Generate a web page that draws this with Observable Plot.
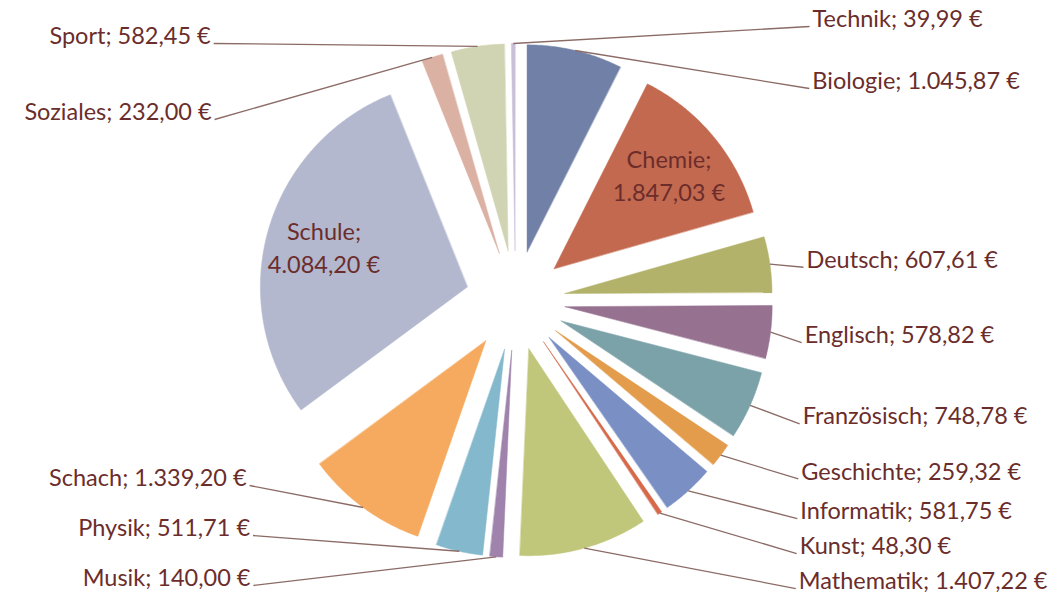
<!DOCTYPE html>
<html>
<head>
<meta charset="utf-8">
<script src="https://cdn.jsdelivr.net/npm/d3@7"></script>
<script src="https://cdn.jsdelivr.net/npm/@observablehq/plot@0.6"></script>
<style>
  html, body { margin: 0; padding: 0; background: #ffffff; }
  #chart svg { display: block; }
</style>
</head>
<body>
<div id="chart"></div>
<script>
// ---- Data -------------------------------------------------------------
const categories = ["Biologie","Chemie","Deutsch","Englisch","Französisch","Geschichte","Informatik","Kunst","Mathematik","Musik","Physik","Schach","Schule","Soziales","Sport","Technik"];
const values = [1045.87, 1847.03, 607.61, 578.82, 748.78, 259.32, 581.75, 48.30, 1407.22, 140.00, 511.71, 1339.20, 4084.20, 232.00, 582.45, 39.99];
const palette = ["#7080a6","#c3694f","#b2b26b","#977190","#7ca2a9","#e39c4c","#7a8fc4","#d5694a","#c0c67a","#9f83ac","#84b8cc","#f5aa5f","#b3b8cf","#dab1a3","#d1d4b2","#c9bfd8"];

// ---- Layout ------------------------------------------------------------
const W = 1058, H = 602;
const cx = 515, cy = 300;       // pie centre
const r = 207;                  // slice radius
const explode = 50;             // explosion offset of each slice
const labelR = 285;             // radius used for initial label heights
const rightX = 805, leftX = 230;
const textColor = "#6b2d2b", leaderColor = "#8b6b66";
const font = "Lato, 'Open Sans', sans-serif";
const fontSize = 23.5;

const de = d3.formatLocale({decimal: ",", thousands: ".", grouping: [3], currency: ["", " €"]});
const fmt = de.format("$,.2f");

const total = d3.sum(values);
const arcs = d3.pie().sort(null).value(d => d)(values);
const dir = a => [Math.sin(a), -Math.cos(a)];

const slices = [];
const outline = [];
arcs.forEach((a, i) => {
  const name = categories[i];
  const mid = (a.startAngle + a.endAngle) / 2;
  const [ux, uy] = dir(mid);
  const tx = cx + explode * ux, ty = cy + explode * uy;
  outline.push({name, x: tx, y: ty});
  const n = Math.max(2, Math.ceil((a.endAngle - a.startAngle) / (Math.PI / 360)));
  for (let k = 0; k <= n; k++) {
    const t = a.startAngle + (a.endAngle - a.startAngle) * k / n;
    const [vx, vy] = dir(t);
    outline.push({name, x: tx + r * vx, y: ty + r * vy});
  }
  slices.push({name, value: values[i], share: values[i] / total, mid, ux, uy, tx, ty,
               label: `${name}; ${fmt(values[i])}`});
});

// inside labels for the large slices
const inside = slices.filter(s => s.share > 0.12).map(s => ({
  ...s, label: `${s.name};\n${fmt(s.value)}`,
  x: s.tx + 0.72 * r * s.ux, y: s.ty + 0.72 * r * s.uy
}));

// outside labels with leader lines
const outside = slices.filter(s => s.share <= 0.12).map(s => ({
  ...s,
  side: s.ux > -0.02 ? 1 : -1,
  y0: cy + labelR * s.uy,
  ax: cx + (explode + r) * s.ux,
  ay: cy + (explode + r) * s.uy
}));

// spread labels vertically: wider spacing in the upper half
function spread(list, gapLow, gapHigh, top, bottom) {
  list.sort((a, b) => a.y0 - b.y0);
  const gap = (a, b) => (a.y0 < cy && b.y0 < cy) ? gapHigh : gapLow;
  list.forEach((d, i) => { d.ly = Math.max(d.y0, top, i ? list[i - 1].ly + gap(list[i - 1], d) : top); });
  for (let i = list.length - 1; i >= 0; i--) {
    list[i].ly = Math.min(list[i].ly, i < list.length - 1 ? list[i + 1].ly - gap(list[i], list[i + 1]) : bottom);
  }
  list.forEach((d, i) => { d.ly = Math.max(d.ly, top, i ? list[i - 1].ly + gap(list[i - 1], d) : top); });
}
const rightLabels = outside.filter(d => d.side > 0);
const leftLabels = outside.filter(d => d.side < 0);
spread(rightLabels, 35, 62, 19, 587);
spread(leftLabels, 50, 76, 36, 578);
rightLabels.forEach(d => { d.lx = rightX - 7 * d.uy; d.ex = d.lx - 3; d.ey = d.ly + 7; });
leftLabels.forEach(d => { d.lx = leftX + 20 * d.uy; d.ex = d.lx + 3; d.ey = d.ly + 7; });

const chart = Plot.plot({
  width: W, height: H,
  margin: 0,
  x: {domain: [0, W], range: [0, W], axis: null},
  y: {domain: [0, H], range: [0, H], axis: null},
  color: {domain: categories, range: palette},
  style: {background: "#ffffff"},
  marks: [
    Plot.line(outline, {x: "x", y: "y", z: "name", fill: "name", stroke: "name", strokeWidth: 0.5, curve: "linear-closed"}),
    Plot.link([...rightLabels, ...leftLabels], {x1: "ax", y1: "ay", x2: "ex", y2: "ey", stroke: leaderColor, strokeWidth: 1.3}),
    Plot.text(rightLabels, {x: "lx", y: "ly", text: "label", textAnchor: "start", fill: textColor, fontSize, fontFamily: font}),
    Plot.text(leftLabels, {x: "lx", y: "ly", text: "label", textAnchor: "end", fill: textColor, fontSize, fontFamily: font}),
    Plot.text(inside, {x: "x", y: "y", text: "label", textAnchor: "middle", lineHeight: 1.4, fill: textColor, fontSize, fontFamily: font})
  ]
});
document.getElementById("chart").appendChild(chart);
</script>
</body>
</html>
